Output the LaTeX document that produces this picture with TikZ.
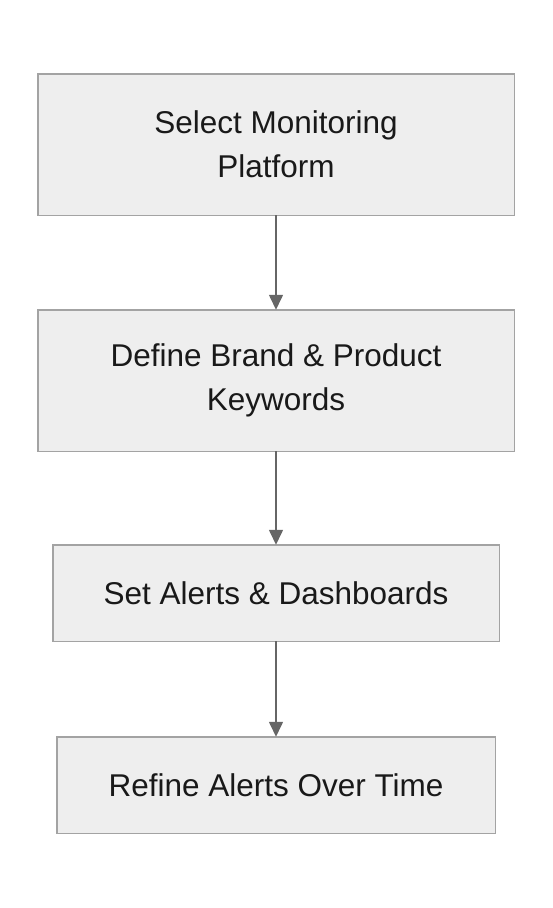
\documentclass[tikz,border=0pt]{standalone}
\usepackage{fontspec}
\setmainfont{Liberation Sans}
\usetikzlibrary{positioning,arrows.meta}
\definecolor{boxfill}{HTML}{EEEEEE}
\definecolor{boxline}{HTML}{A3A3A3}
\definecolor{flowline}{HTML}{666666}
\tikzset{
  stepbox/.style={draw=boxline, fill=boxfill, line width=1.5pt, align=center, outer sep=0pt,
    text=black!90, font=\fontsize{31.5}{44}\selectfont, inner sep=0pt},
  flow/.style={draw=flowline, line width=1.6pt, -{Triangle[length=15pt,width=14pt]}}
}
\begin{document}
\begin{tikzpicture}[x=1pt, y=-1pt, node distance=94.5pt]
  \useasboundingbox (0,0) rectangle (552,908);
  \node [stepbox, minimum width=476.5pt, minimum height=141.5pt] (select) at (276,144.5)
    {Select Monitoring\\Platform};
  \node [stepbox, minimum width=476.5pt, minimum height=141.5pt, below=of select] (define)
    {Define Brand \& Product\\Keywords};
  \node [stepbox, minimum width=446.5pt, minimum height=96.5pt, below=93.5pt of define] (alerts)
    {Set Alerts \& Dashboards};
  \node [stepbox, minimum width=438.5pt, minimum height=96.5pt, below=95.5pt of alerts] (refine)
    {Refine Alerts Over Time};
  % connectors
  \draw [flow] (select) -- (define);
  \draw [flow] (define) -- (alerts);
  \draw [flow] (alerts) -- (refine);
\end{tikzpicture}
\end{document}
